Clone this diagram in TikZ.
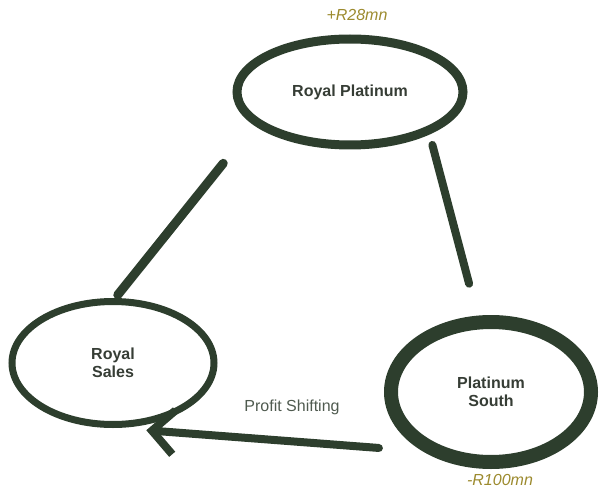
\documentclass[tikz,border=0pt]{standalone}
\usepackage{fontspec}
\setmainfont{Liberation Sans}
\usetikzlibrary{shapes.geometric,arrows.meta}
\definecolor{brush}{HTML}{2D3E2D}
\definecolor{firmtext}{HTML}{363D35}
\definecolor{gold}{HTML}{9C8A2E}
\definecolor{flowtext}{HTML}{4F5A4F}

\begin{document}
\begin{tikzpicture}[x=1pt,y=-1pt,
  firm/.style={ellipse, draw=brush, inner sep=0pt, align=center,
    font=\fontsize{16}{18}\selectfont\bfseries, text=firmtext},
  stroke/.style={draw=brush, line width=9pt, line cap=round},
  gain/.style={font=\fontsize{16}{18}\selectfont\itshape, text=gold}]

\useasboundingbox (0,0) rectangle (599,489);

% Companies
\node[firm, line width=9pt, minimum width=226pt, minimum height=106pt] (rp) at (350,92) {Royal Platinum};
\node[firm, line width=7pt, minimum width=202pt, minimum height=123pt] (rs) at (113,363) {Royal\\Sales};
\node[firm, line width=14pt, minimum width=200pt, minimum height=140pt] (ps) at (491,392) {Platinum\\South};

% Amounts
\node[gain] (rpgain) at (357,15) {+R28mn};
\node[gain] (psloss) at (500,480) {-R100mn};

% Links
\draw[stroke, shorten <=49pt, shorten >=4pt] (rp.199) -- (rs.88);
\draw[stroke, line width=8pt, shorten <=11pt, shorten >=33pt] (rp.332) -- (ps.100);

% Profit shifting
\draw[stroke, line width=8pt, shorten <=44pt, shorten >=30pt,
  -{Straight Barb[length=22pt, width=44pt]}] (ps.221) -- (rs.273);
\node[font=\fontsize{16}{18}\selectfont, text=flowtext] (shift) at (292,407) {Profit Shifting};
\end{tikzpicture}
\end{document}
